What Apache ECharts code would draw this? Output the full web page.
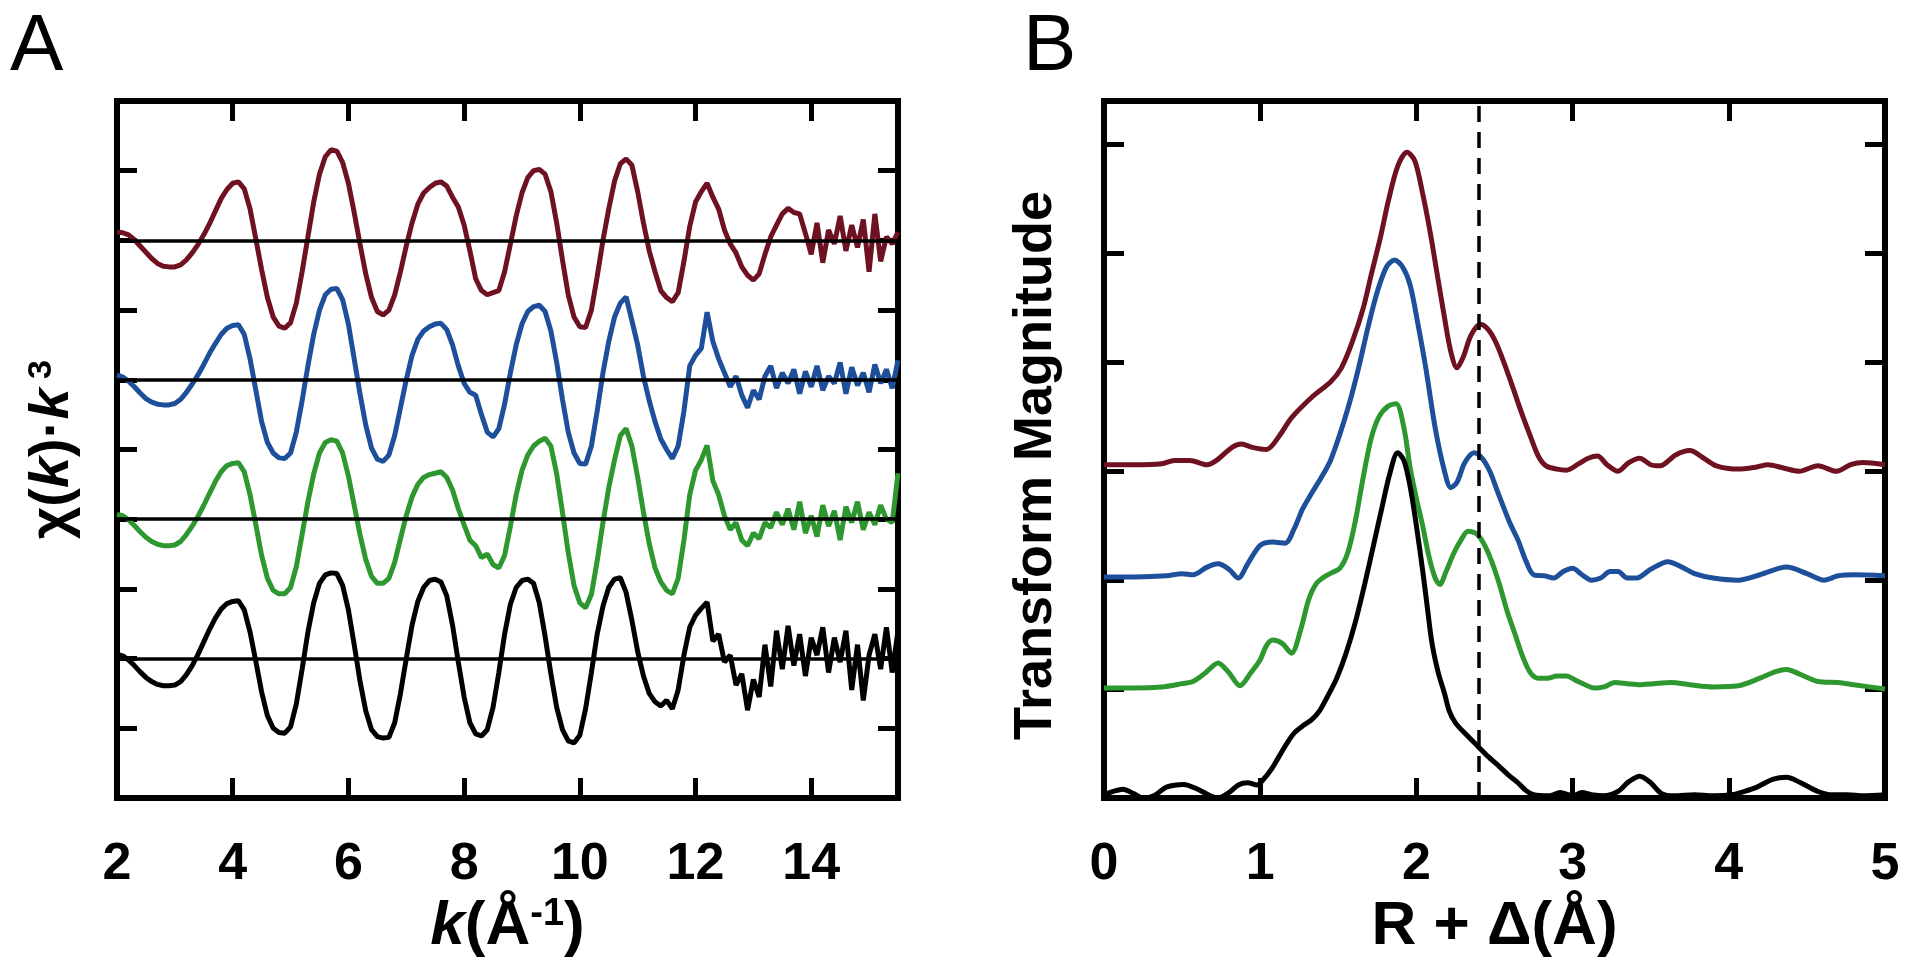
<!DOCTYPE html>
<html><head><meta charset="utf-8">
<script src="https://cdn.jsdelivr.net/npm/echarts@6/dist/echarts.min.js"></script>
<style>html,body{margin:0;padding:0;background:#fff;}#c{width:1920px;height:972px;}</style>
</head><body><div id="c"></div>
<script>
// ---------- Panel A: k-space EXAFS, k = 2.0 .. 15.5 step 0.1 (offset spectra) ----------
const K_START = 2.0, K_STEP = 0.1;
const RED_A = [
8.12,8.11,8.08,8.01,7.92,7.83,7.74,7.67,7.63,7.62,
7.62,7.65,7.72,7.82,7.94,8.08,8.24,8.42,8.60,8.73,
8.82,8.84,8.74,8.45,8.02,7.58,7.18,6.90,6.77,6.74,
6.82,7.10,7.55,8.05,8.55,8.95,9.20,9.30,9.28,9.12,
8.82,8.40,7.95,7.52,7.18,6.98,6.93,7.00,7.22,7.55,
7.92,8.25,8.52,8.68,8.76,8.82,8.84,8.78,8.62,8.48,
8.22,7.85,7.45,7.28,7.22,7.25,7.28,7.55,7.95,8.35,
8.68,8.90,9.00,9.02,8.95,8.70,8.25,7.72,7.22,6.90,
6.76,6.75,7.00,7.48,8.00,8.45,8.85,9.10,9.17,9.08,
8.70,8.25,7.85,7.55,7.28,7.18,7.12,7.25,7.70,8.20,
8.55,8.70,8.82,8.62,8.45,8.15,7.95,7.82,7.62,7.50,
7.43,7.52,7.80,8.05,8.22,8.38,8.46,8.40,8.38,8.10,
7.80,8.25,7.68,8.15,7.95,8.35,7.85,8.22,7.90,8.30,
7.55,8.38,7.70,8.05,7.95,8.12];
const BLUE_A = [
6.07,6.04,5.98,5.90,5.81,5.73,5.68,5.65,5.64,5.64,
5.66,5.72,5.82,5.94,6.07,6.22,6.38,6.52,6.65,6.74,
6.78,6.79,6.65,6.30,5.85,5.40,5.10,4.95,4.88,4.87,
4.95,5.25,5.70,6.20,6.65,7.00,7.22,7.30,7.31,7.15,
6.80,6.30,5.80,5.35,5.02,4.86,4.83,4.92,5.20,5.60,
6.00,6.35,6.58,6.70,6.76,6.80,6.81,6.72,6.50,6.20,
5.95,5.82,5.78,5.50,5.25,5.18,5.30,5.65,6.10,6.50,
6.80,6.98,7.05,7.07,6.98,6.70,6.25,5.72,5.25,4.95,
4.80,4.79,5.05,5.55,6.10,6.55,6.90,7.10,7.19,6.85,
6.50,6.05,5.70,5.40,5.15,5.00,4.87,5.05,5.55,6.20,
6.35,6.45,6.97,6.55,6.30,6.10,5.90,6.05,5.78,5.60,
5.85,5.72,6.05,6.20,5.88,6.10,5.95,6.15,5.80,6.12,
5.90,6.20,5.85,6.05,5.95,6.25,5.80,6.18,5.92,6.10,
5.82,6.22,5.95,6.15,5.88,6.28];
const GREEN_A = [
4.07,4.05,3.99,3.91,3.82,3.74,3.68,3.64,3.62,3.62,
3.63,3.68,3.78,3.90,4.04,4.20,4.37,4.54,4.68,4.77,
4.80,4.81,4.68,4.35,3.92,3.48,3.15,2.98,2.93,2.93,
3.02,3.32,3.78,4.25,4.65,4.95,5.10,5.14,5.12,4.95,
4.62,4.20,3.78,3.42,3.18,3.08,3.08,3.15,3.38,3.72,
4.05,4.32,4.50,4.60,4.64,4.66,4.68,4.60,4.42,4.15,
3.92,3.70,3.62,3.45,3.50,3.35,3.30,3.48,3.90,4.35,
4.70,4.92,5.05,5.12,5.16,5.05,4.65,4.10,3.52,3.05,
2.80,2.73,2.92,3.40,3.95,4.45,4.85,5.20,5.30,5.05,
4.60,4.10,3.65,3.30,3.10,2.98,2.93,3.15,3.70,4.35,
4.70,4.85,5.06,4.55,4.35,4.05,3.85,3.95,3.70,3.62,
3.80,3.72,3.95,3.88,4.10,3.92,4.15,3.85,4.25,3.80,
4.05,3.75,4.20,3.90,4.12,3.70,4.18,3.95,4.25,3.85,
4.10,3.92,4.20,4.00,3.95,4.66];
const BLACK_A = [
2.06,2.04,1.98,1.90,1.81,1.73,1.67,1.63,1.61,1.61,
1.62,1.67,1.77,1.90,2.06,2.24,2.42,2.58,2.71,2.79,
2.82,2.83,2.70,2.38,1.96,1.52,1.18,1.00,0.94,0.93,
1.02,1.35,1.85,2.38,2.80,3.08,3.20,3.23,3.22,3.05,
2.70,2.20,1.68,1.25,0.98,0.88,0.86,0.87,1.08,1.50,
2.00,2.48,2.82,3.02,3.12,3.14,3.10,2.90,2.48,1.95,
1.45,1.08,0.92,0.89,0.98,1.30,1.80,2.35,2.78,3.02,
3.12,3.14,3.08,2.80,2.32,1.78,1.30,0.98,0.82,0.79,
0.90,1.28,1.80,2.35,2.75,3.02,3.14,3.16,2.95,2.55,
2.10,1.75,1.50,1.38,1.32,1.40,1.28,1.55,2.05,2.45,
2.62,2.72,2.81,2.25,2.35,1.95,2.05,1.62,1.78,1.26,
1.70,1.45,2.20,1.60,2.40,1.85,2.47,1.90,2.35,1.75,
2.30,2.05,2.45,1.80,2.30,1.95,2.40,1.55,2.20,1.40,
2.05,2.35,1.85,2.45,1.80,2.40];
const BASELINES_A = [8, 6, 4, 2];

// ---------- Panel B: Fourier transforms, R + Δ (Å) ----------
const R_B_RED = [0,0.2,0.37,0.45,0.55,0.66,0.72,0.82,0.88,0.95,1.04,1.12,1.2,1.33,1.45,1.52,1.59,1.66,1.71,1.77,1.82,1.88,1.94,1.99,2.04,2.09,2.14,2.18,2.22,2.26,2.3,2.35,2.41,2.46,2.51,2.56,2.61,2.67,2.73,2.78,2.83,2.9,2.96,3.04,3.1,3.16,3.22,3.29,3.36,3.43,3.5,3.56,3.66,3.75,3.84,3.92,4.06,4.18,4.25,4.35,4.45,4.57,4.69,4.78,4.86,5.0];
const V_B_RED = [3.06,3.06,3.07,3.1,3.1,3.06,3.1,3.22,3.25,3.22,3.2,3.32,3.49,3.68,3.82,3.95,4.19,4.5,4.8,5.15,5.48,5.8,5.93,5.85,5.55,5.18,4.75,4.41,4.1,3.95,4.05,4.25,4.35,4.3,4.18,4.0,3.8,3.55,3.32,3.14,3.05,3.02,3.01,3.07,3.12,3.14,3.06,3.0,3.08,3.12,3.06,3.05,3.15,3.19,3.12,3.05,3.02,3.04,3.06,3.03,3.0,3.05,3.0,3.06,3.08,3.06];
const R_B_BLUE = [0,0.2,0.4,0.5,0.57,0.66,0.73,0.8,0.86,0.92,1.0,1.08,1.16,1.22,1.27,1.33,1.39,1.45,1.51,1.57,1.63,1.69,1.75,1.81,1.86,1.91,1.96,2.01,2.06,2.12,2.18,2.22,2.26,2.31,2.37,2.42,2.47,2.51,2.55,2.6,2.65,2.7,2.75,2.82,2.88,2.94,3.0,3.06,3.12,3.18,3.24,3.29,3.35,3.41,3.5,3.61,3.7,3.78,3.9,4.06,4.2,4.37,4.5,4.61,4.7,4.8,5.0];
const V_B_BLUE = [2.03,2.03,2.04,2.06,2.05,2.12,2.15,2.1,2.02,2.15,2.32,2.35,2.34,2.48,2.65,2.8,2.94,3.1,3.34,3.62,3.95,4.32,4.65,4.88,4.94,4.88,4.71,4.35,3.95,3.4,3.0,2.85,2.9,3.08,3.17,3.12,3.0,2.85,2.7,2.52,2.37,2.18,2.05,2.04,2.02,2.08,2.11,2.05,2.0,2.02,2.08,2.08,2.02,2.02,2.1,2.17,2.12,2.06,2.02,2.0,2.05,2.12,2.06,2.0,2.04,2.05,2.04];
const R_B_GREEN = [0,0.2,0.37,0.5,0.57,0.65,0.73,0.8,0.87,0.94,1.0,1.04,1.08,1.14,1.2,1.26,1.31,1.36,1.41,1.46,1.51,1.56,1.61,1.66,1.71,1.76,1.82,1.87,1.92,1.96,2.0,2.04,2.08,2.12,2.15,2.19,2.24,2.29,2.33,2.38,2.43,2.48,2.53,2.58,2.63,2.68,2.73,2.78,2.84,2.9,2.96,3.02,3.08,3.14,3.2,3.27,3.35,3.43,3.52,3.63,3.75,3.9,4.06,4.2,4.3,4.37,4.45,4.57,4.7,4.8,5.0];
const V_B_GREEN = [1.01,1.01,1.02,1.05,1.07,1.15,1.24,1.15,1.03,1.15,1.27,1.4,1.45,1.42,1.33,1.55,1.82,1.97,2.03,2.07,2.11,2.25,2.55,2.95,3.3,3.5,3.6,3.62,3.4,3.03,2.75,2.5,2.22,2.02,1.96,2.08,2.25,2.38,2.45,2.43,2.34,2.18,1.97,1.72,1.51,1.3,1.15,1.1,1.1,1.12,1.12,1.08,1.04,1.01,1.02,1.06,1.05,1.04,1.05,1.06,1.04,1.02,1.03,1.1,1.16,1.18,1.14,1.07,1.06,1.04,1.0];
const R_B_BLACK = [0,0.06,0.12,0.19,0.25,0.32,0.4,0.51,0.6,0.68,0.73,0.8,0.86,0.92,0.98,1.02,1.07,1.12,1.17,1.22,1.28,1.33,1.38,1.43,1.49,1.55,1.61,1.67,1.73,1.78,1.83,1.88,1.92,1.96,2.0,2.04,2.07,2.1,2.14,2.18,2.21,2.25,2.32,2.39,2.46,2.53,2.59,2.65,2.7,2.75,2.85,2.92,3.0,3.06,3.12,3.2,3.29,3.36,3.43,3.5,3.57,3.65,3.78,3.9,4.02,4.1,4.18,4.28,4.37,4.46,4.57,4.66,4.76,4.86,5.0];
const V_B_BLACK = [0.03,0.06,0.08,0.04,0.0,0.02,0.1,0.125,0.08,0.02,0.0,0.05,0.12,0.14,0.12,0.17,0.26,0.38,0.5,0.6,0.67,0.72,0.8,0.93,1.1,1.33,1.62,1.97,2.35,2.67,2.98,3.17,3.1,2.86,2.5,2.09,1.75,1.42,1.15,0.96,0.8,0.69,0.58,0.48,0.38,0.29,0.21,0.14,0.07,0.03,0.02,0.05,0.02,0.05,0.03,0.02,0.06,0.15,0.2,0.14,0.04,0.02,0.03,0.02,0.03,0.06,0.1,0.17,0.19,0.14,0.06,0.03,0.03,0.02,0.03];
const DASH_R = 2.4;

const COL_RED = '#6e1221', COL_BLUE = '#1d4f9b', COL_GREEN = '#2f972f', COL_BLACK = '#000000';
const FONT = '"Liberation Sans", Arial, sans-serif';

function kPairs(vals) { return vals.map((v, i) => [+(K_START + i * K_STEP).toFixed(2), v]); }
function rPairs(rs, vs) { return rs.map((r, i) => [r, vs[i]]); }

function tick() { return { show: true, inside: true, length: 20, lineStyle: { color: '#000', width: 5 } }; }
function lbl(extra) { return Object.assign({ color: '#000', fontSize: 52, fontWeight: 'bold', fontFamily: FONT }, extra); }
function ax(o) {
  return Object.assign({ type: 'value', axisLine: { show: false, onZero: false }, axisTick: tick(), splitLine: { show: false } }, o);
}
const bold = (fs) => ({ fontSize: fs, fontWeight: 'bold', fontFamily: FONT, color: '#000' });
const ital = (fs) => ({ fontSize: fs, fontWeight: 'bold', fontStyle: 'italic', fontFamily: FONT, color: '#000' });
const sup = (fs) => ({ fontSize: fs, fontWeight: 'bold', fontFamily: FONT, color: '#000', verticalAlign: 'top' });

function line(name, data, color, xi, yi, smooth, extra) {
  return Object.assign({
    name, type: 'line', data, xAxisIndex: xi, yAxisIndex: yi, showSymbol: false, smooth: smooth,
    lineStyle: { color, width: 5 }, itemStyle: { color }, silent: true, animation: false
  }, extra || {});
}

const chart = echarts.init(document.getElementById('c'), null, { renderer: 'canvas' });
chart.setOption({
  backgroundColor: '#fff',
  animation: false,
  title: [
    { text: 'A', left: 10, top: 8, padding: 0, textStyle: { fontSize: 80, fontWeight: 'normal', fontFamily: FONT, color: '#000' } },
    { text: 'B', left: 1023, top: 8, padding: 0, textStyle: { fontSize: 80, fontWeight: 'normal', fontFamily: FONT, color: '#000' } }
  ],
  grid: [
    { left: 117, top: 101, width: 781, height: 697, show: true, borderColor: '#000', borderWidth: 6, backgroundColor: 'transparent' },
    { left: 1104, top: 101, width: 781, height: 697, show: true, borderColor: '#000', borderWidth: 6, backgroundColor: 'transparent' }
  ],
  xAxis: [
    ax({ gridIndex: 0, position: 'bottom', min: 2, max: 15.5, interval: 2,
      axisLabel: lbl({ margin: 41, showMaxLabel: false }),
      name: '{i|k}{b|(Å}{s|-1}{b|)}', nameLocation: 'middle', nameGap: 96,
      nameTextStyle: { rich: { i: ital(62), b: bold(62), s: sup(38) } } }),
    ax({ gridIndex: 0, position: 'top', min: 2, max: 15.5, interval: 2, axisLabel: { show: false } }),
    ax({ gridIndex: 1, position: 'bottom', min: 0, max: 5, interval: 1,
      axisLabel: lbl({ margin: 41 }),
      name: 'R + Δ(Å)', nameLocation: 'middle', nameGap: 96,
      nameTextStyle: bold(62) }),
    ax({ gridIndex: 1, position: 'top', min: 0, max: 5, interval: 1, axisLabel: { show: false } })
  ],
  yAxis: [
    ax({ gridIndex: 0, position: 'left', min: 0, max: 10, interval: 1, axisLabel: { show: false },
      name: '{c|χ(}{i|k}{b|)·}{i|k}{s| 3}', nameLocation: 'middle', nameGap: 36, nameRotate: 90,
      nameTextStyle: { rich: { c: bold(56), i: ital(56), b: bold(56), s: sup(34) } } }),
    ax({ gridIndex: 0, position: 'right', min: 0, max: 10, interval: 1, axisLabel: { show: false } }),
    ax({ gridIndex: 1, position: 'left', min: 0, max: 6.4, interval: 1, axisLabel: { show: false },
      name: 'Transform Magnitude', nameLocation: 'middle', nameGap: 41, nameRotate: 90,
      nameTextStyle: Object.assign({ padding: [0, 32, 0, 0] }, bold(54)) }),
    ax({ gridIndex: 1, position: 'right', min: 0, max: 6.4, interval: 1, axisLabel: { show: false } })
  ],
  series: [
    line('red A', kPairs(RED_A), COL_RED, 0, 0, false),
    line('blue A', kPairs(BLUE_A), COL_BLUE, 0, 0, false),
    line('green A', kPairs(GREEN_A), COL_GREEN, 0, 0, false),
    line('black A', kPairs(BLACK_A), COL_BLACK, 0, 0, false, {
      markLine: { silent: true, symbol: 'none', animation: false, label: { show: false },
        lineStyle: { color: '#000', width: 3.5, type: 'solid' },
        data: BASELINES_A.map(v => ({ yAxis: v })) }
    }),
    line('red B', rPairs(R_B_RED, V_B_RED), COL_RED, 2, 2, 0.3),
    line('blue B', rPairs(R_B_BLUE, V_B_BLUE), COL_BLUE, 2, 2, 0.3),
    line('green B', rPairs(R_B_GREEN, V_B_GREEN), COL_GREEN, 2, 2, 0.3),
    line('black B', rPairs(R_B_BLACK, V_B_BLACK), COL_BLACK, 2, 2, 0.3, {
      markLine: { silent: true, symbol: 'none', animation: false, label: { show: false },
        lineStyle: { color: '#000', width: 3.5, type: [16, 10] },
        data: [{ xAxis: DASH_R }] }
    })
  ]
});
</script></body></html>
